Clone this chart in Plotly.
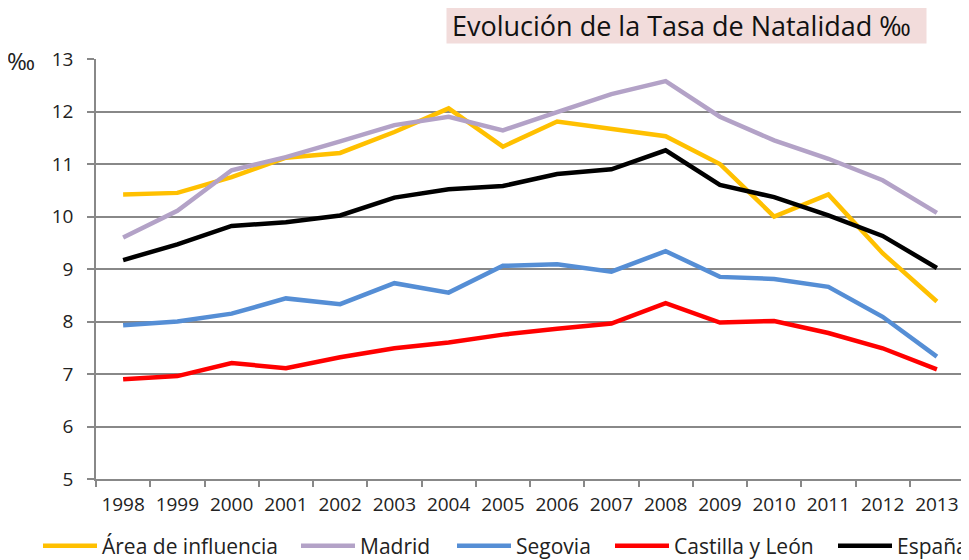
import plotly.graph_objects as go

years = [str(y) for y in range(1998, 2014)]
area = [10.42, 10.45, 10.75, 11.12, 11.21, 11.61, 12.06, 11.33, 11.81, 11.66, 11.53, 11.00, 10.00, 10.42, 9.30, 8.38]
madrid = [9.60, 10.11, 10.88, 11.13, 11.43, 11.74, 11.90, 11.64, 11.99, 12.33, 12.58, 11.90, 11.45, 11.10, 10.69, 10.07]
segovia = [7.93, 8.00, 8.15, 8.44, 8.33, 8.73, 8.55, 9.06, 9.09, 8.95, 9.34, 8.85, 8.81, 8.66, 8.09, 7.33]
cyl = [6.90, 6.96, 7.21, 7.11, 7.32, 7.49, 7.60, 7.75, 7.86, 7.96, 8.35, 7.98, 8.01, 7.78, 7.49, 7.09]
espana = [9.17, 9.47, 9.82, 9.89, 10.02, 10.36, 10.52, 10.58, 10.81, 10.90, 11.26, 10.60, 10.37, 10.02, 9.63, 9.02]

names = ["Área de influencia", "Madrid", "Segovia", "Castilla y León", "España"]
values = [area, madrid, segovia, cyl, espana]
colors = ["#FFC000", "#B3A2C7", "#558ED5", "#FF0000", "#000000"]
# legend item left positions (figure px)
legend_x = [30, 288, 444, 602, 825]

FONT = "Open Sans"
W, H = 961, 552  # page body has an 8px margin

fig = go.Figure()
legend_layout = {}
for i, (name, vals, col) in enumerate(zip(names, values, colors)):
    lid = "legend" if i == 0 else f"legend{i+1}"
    fig.add_trace(go.Scatter(x=years, y=vals, name=name, mode="lines",
                             line=dict(color=col, width=4.5), legend=lid))
    legend_layout[lid] = dict(orientation="h", xref="container", yref="container",
                              x=legend_x[i] / W, xanchor="left", y=14 / H, yanchor="middle",
                              font=dict(size=21, color="#222222", family=FONT), itemwidth=54,
                              bgcolor="rgba(0,0,0,0)")

fig.update_layout(
    width=W, height=H,
    margin=dict(l=88, r=5, t=51, b=81, autoexpand=False),
    paper_bgcolor="white", plot_bgcolor="white",
    font=dict(family=FONT, size=19, color="#222222"),
    showlegend=True,
    xaxis=dict(type="category", range=[-0.5, 15.5], showgrid=False, showline=True,
               linecolor="#888888", linewidth=1.5, automargin=False,
               ticks="outside", tickson="boundaries", ticklen=6, tickcolor="#888888", tickwidth=1.5,
               tickfont=dict(size=19), ticklabelstandoff=7, fixedrange=True),
    yaxis=dict(range=[5, 13], dtick=1, showgrid=True, gridcolor="#888888", gridwidth=1.5,
               showline=True, linecolor="#888888", linewidth=1.5, ticks="outside", ticklen=7,
               tickcolor="#888888", tickwidth=1.5, tickfont=dict(size=19), ticklabelstandoff=10,
               zeroline=False, fixedrange=True, automargin=False),
    annotations=[
        dict(text="Evolución de la Tasa de Natalidad ‰", xref="paper", yref="paper",
             x=0.680, y=1.079, xanchor="center", yanchor="middle", showarrow=False,
             bgcolor="#F2DCDB", width=469, height=25, borderpad=5, align="left",
             font=dict(size=27, color="#111111", family=FONT)),
        dict(text="‰", xref="paper", yref="paper", x=-0.0864, y=0.997, xanchor="center",
             yanchor="middle", showarrow=False, font=dict(size=24, color="#222222")),
    ],
    **legend_layout,
)

fig.write_html("out.html")
